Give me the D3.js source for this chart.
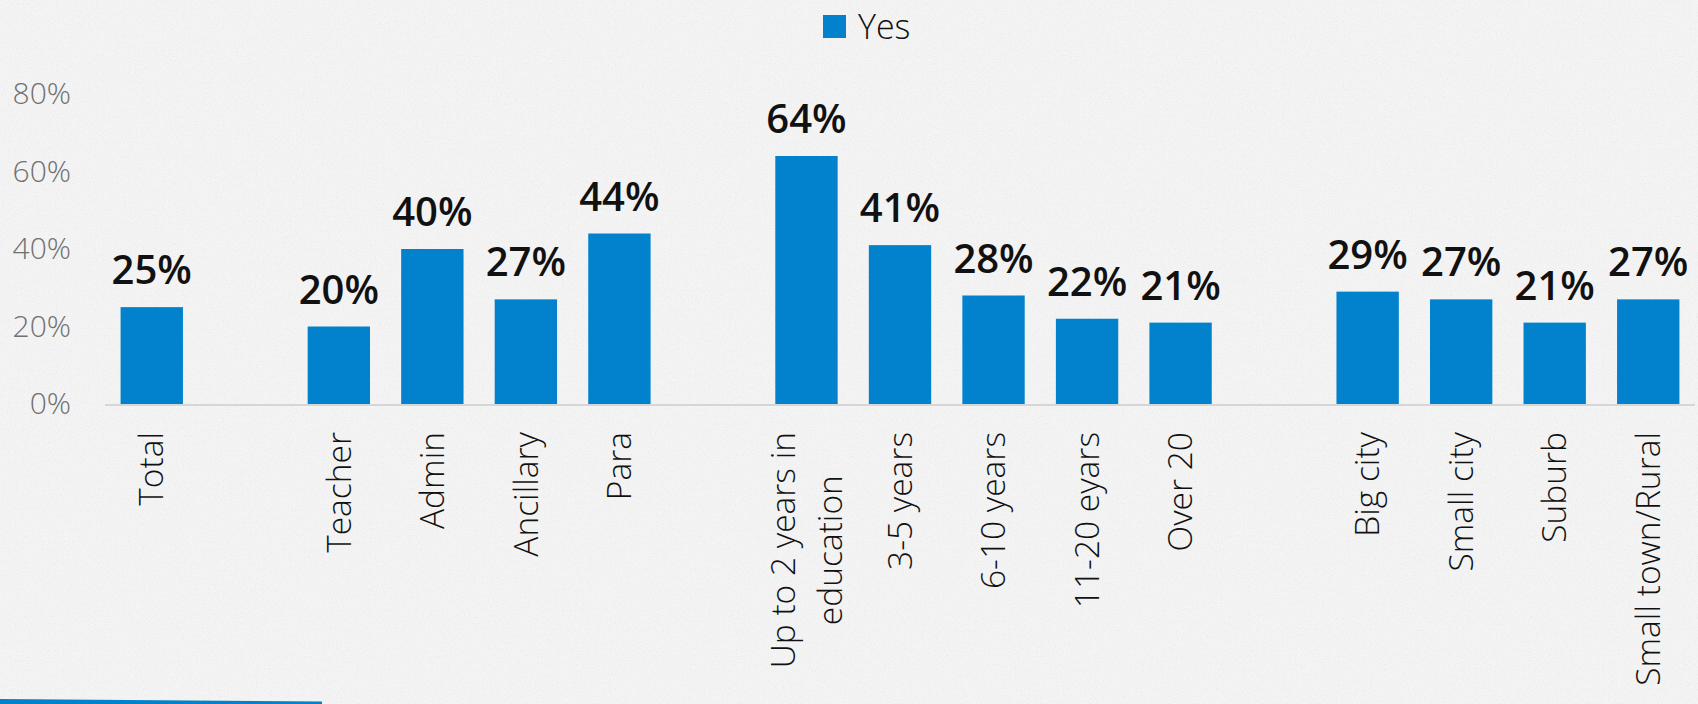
<!DOCTYPE html>
<html>
<head>
<meta charset="utf-8">
<script src="https://cdn.jsdelivr.net/npm/d3@7/dist/d3.min.js"></script>
<style>
  html, body { margin: 0; padding: 0; background: #f2f2f2; }
  svg { display: block; }
  text { font-family: "Segoe UI", "Open Sans", "Noto Sans", sans-serif; }
</style>
</head>
<body>
<svg id="chart" width="1698" height="704"></svg>
<script>
// Category slots; null entries are the empty spacer slots between groups.
const categories = [
  "Total", null,
  "Teacher", "Admin", "Ancillary", "Para", null,
  "Up to 2 years in\neducation", "3-5 years", "6-10 years", "11-20 eyars", "Over 20", null,
  "Big city", "Small city", "Suburb", "Small town/Rural"
];
const yesValues = [
  0.25, null,
  0.20, 0.40, 0.27, 0.44, null,
  0.64, 0.41, 0.28, 0.22, 0.21, null,
  0.29, 0.27, 0.21, 0.27
];
const yTicks = [0, 0.2, 0.4, 0.6, 0.8];
const seriesName = "Yes";

const W = 1698, H = 704;
const plot = { left: 105, right: 1695, top: 94, bottom: 404 };
const barColor = "#0282cc";

const svg = d3.select("#chart");

// Paper-like textured background
const defs = svg.append("defs");
const f = defs.append("filter").attr("id", "grain")
  .attr("x", 0).attr("y", 0).attr("width", "100%").attr("height", "100%");
f.append("feTurbulence").attr("type", "fractalNoise")
  .attr("baseFrequency", 0.85).attr("numOctaves", 2).attr("seed", 7).attr("result", "n");
f.append("feColorMatrix").attr("in", "n").attr("type", "matrix")
  .attr("values", "0 0 0 0 0  0 0 0 0 0  0 0 0 0 0  0 0 0 -0.9 0.5")
  .attr("result", "dark");
f.append("feComposite").attr("in", "dark").attr("in2", "SourceGraphic").attr("operator", "in");

svg.append("rect").attr("width", W).attr("height", H).attr("fill", "#f4f4f4");
svg.append("rect").attr("width", W).attr("height", H).attr("fill", "#9a9a9a")
  .attr("opacity", 0.10).attr("filter", "url(#grain)");

const x = d3.scaleBand()
  .domain(d3.range(categories.length))
  .range([plot.left, plot.right])
  .paddingInner(1 / 3)
  .paddingOuter(1 / 6);

const y = d3.scaleLinear().domain([0, 0.8]).range([plot.bottom, plot.top]);

// Y axis (labels only)
const yAxis = d3.axisLeft(y)
  .tickValues(yTicks)
  .tickFormat(d3.format(".0%"))
  .tickSize(0)
  .tickPadding(34);
const yg = svg.append("g").attr("transform", `translate(${plot.left},0)`).call(yAxis);
yg.select(".domain").remove();
yg.selectAll("text")
  .attr("fill", "#707070")
  .style("font-size", "30px")
  .style("font-weight", 350)
  .style("font-family", "'Segoe UI', 'Open Sans', 'Noto Sans', sans-serif");

const data = categories.map((c, i) => ({ i, c, v: yesValues[i] })).filter(d => d.c !== null);

// Bars
svg.append("g").selectAll("rect").data(data).join("rect")
  .attr("x", d => x(d.i))
  .attr("width", x.bandwidth())
  .attr("y", d => y(d.v))
  .attr("height", d => y(0) - y(d.v))
  .attr("fill", barColor);

// Baseline
svg.append("line")
  .attr("x1", plot.left).attr("x2", plot.right)
  .attr("y1", plot.bottom + 1).attr("y2", plot.bottom + 1)
  .attr("stroke", "#d6d6d6").attr("stroke-width", 2);

// Value labels
svg.append("g").selectAll("text").data(data).join("text")
  .attr("x", d => x(d.i) + x.bandwidth() / 2)
  .attr("y", d => y(d.v) - 23)
  .attr("text-anchor", "middle")
  .attr("fill", "#111")
  .style("font-size", "40px")
  .style("font-weight", 600)
  .text(d => d3.format(".0%")(d.v));

// Rotated category labels, top-aligned just below the axis
const labelGap = 28, lineH = 47;
const cats = svg.append("g").selectAll("g").data(data).join("g")
  .attr("transform", d => `translate(${x(d.i) + x.bandwidth() / 2},${plot.bottom}) rotate(-90)`);
cats.each(function (d) {
  const g = d3.select(this);
  const lines = d.c.split("\n");
  const n = lines.length;
  const texts = lines.map((ln, k) => g.append("text")
    .attr("y", (k - (n - 1) / 2) * lineH)
    .attr("dy", "0.35em")
    .attr("fill", "#111")
    .style("font-size", "33.5px")
    .style("font-weight", 350)
    .text(ln));
  const maxLen = d3.max(texts, t => t.node().getComputedTextLength());
  texts.forEach(t => t.attr("text-anchor", "middle").attr("x", -(labelGap + maxLen / 2)));
});

// Legend
const lg = svg.append("g");
lg.append("rect").attr("x", 823).attr("y", 15).attr("width", 23).attr("height", 23).attr("fill", barColor);
lg.append("text").attr("x", 858).attr("y", 39).attr("fill", "#111")
  .style("font-size", "34px").style("font-weight", 350).text(seriesName);

// Accent stripe along the bottom-left edge
svg.append("path")
  .attr("d", "M0,699 L322,701.5 L322,704 L0,704 Z")
  .attr("fill", barColor);
</script>
</body>
</html>
